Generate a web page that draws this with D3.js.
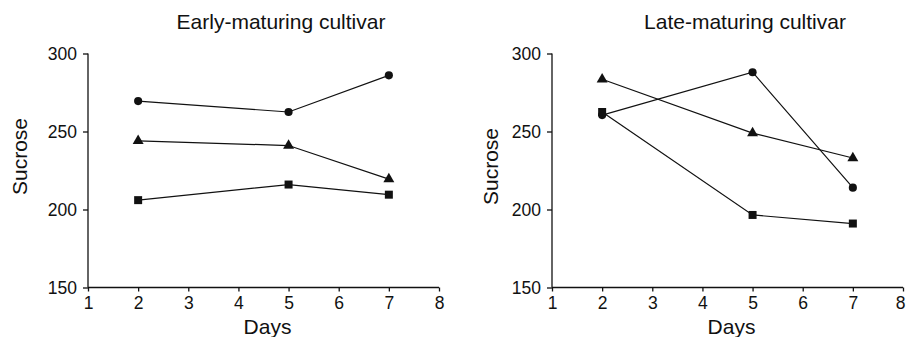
<!DOCTYPE html>
<html>
<head>
<meta charset="utf-8">
<script src="https://cdn.jsdelivr.net/npm/d3@7"></script>
<style>
  body { margin: 0; background: #fff; }
  svg text { font-family: "Liberation Sans", Arial, sans-serif; fill: #111; }
</style>
</head>
<body>
<div id="chart"></div>
<script>
// data
let days = [2, 5, 7];
let earlyCircle = [269.5, 262.5, 286];
let earlyTriangle = [244, 241, 219.5];
let earlySquare = [206, 216, 209.5];
let lateCircle = [260.5, 288, 214];
let lateTriangle = [283.5, 249, 233];
let lateSquare = [262.5, 196.5, 191];
let xTicks = [1, 2, 3, 4, 5, 6, 7, 8];
let yTicks = [150, 200, 250, 300];

let panels = [
    {title: "Early-maturing cultivar", left: 88, labelX: -61, labelY: 156.5,
     series: [{shape: d3.symbolCircle, v: earlyCircle}, {shape: d3.symbolTriangle, v: earlyTriangle}, {shape: d3.symbolSquare, v: earlySquare}]},
    {title: "Late-maturing cultivar", left: 552, labelX: -54, labelY: 166.5,
     series: [{shape: d3.symbolCircle, v: lateCircle}, {shape: d3.symbolTriangle, v: lateTriangle}, {shape: d3.symbolSquare, v: lateSquare}]}
];

let svg = d3.select("#chart").append("svg")
    .attr("width", 906)
    .attr("height", 337);

let plotW = 351, plotTop = 53.5, plotBottom = 287.5;

panels.forEach((p, pi) => {
    let g = svg.append("g").attr("transform", `translate(${p.left},0)`);

    let x = d3.scaleLinear().domain([1, 8]).range([0, plotW]);
    let y = d3.scaleLinear().domain([150, 300]).range([plotBottom, plotTop]);

    let xAxis = g.append("g")
        .attr("transform", `translate(0,${plotBottom})`)
        .call(d3.axisBottom(x).tickValues(xTicks).tickSize(4).tickPadding(5).tickFormat(d3.format("d")));
    let yAxis = g.append("g")
        .call(d3.axisLeft(y).tickValues(yTicks).tickSize(5).tickPadding(6));

    [xAxis, yAxis].forEach(a => {
        a.selectAll("path, line").attr("stroke", "#111").attr("stroke-width", 1.3);
        a.selectAll("text").style("font-size", "17.5px").attr("fill", "#111");
    });
    xAxis.select(".domain").attr("d", `M0,0H${plotW}`);
    yAxis.select(".domain").attr("d", `M0,${plotBottom}V${plotTop}`);

    // last tick label sits at the page edge on the right panel
    if (pi === 1) {
        xAxis.selectAll(".tick text").filter(d => d === 8).attr("dx", -3);
    }

    // titles
    g.append("text")
        .attr("x", 193)
        .attr("y", 29)
        .attr("text-anchor", "middle")
        .style("font-size", "21px")
        .text(p.title);

    g.append("text")
        .attr("x", 179.5)
        .attr("y", 334)
        .attr("text-anchor", "middle")
        .style("font-size", "21px")
        .text("Days");

    g.append("text")
        .attr("transform", `translate(${p.labelX},${p.labelY}) rotate(-90)`)
        .attr("text-anchor", "middle")
        .style("font-size", "21px")
        .text("Sucrose");

    let line = d3.line().x((d, i) => x(days[i])).y(d => y(d));

    p.series.forEach(s => {
        g.append("path")
            .datum(s.v)
            .attr("d", line)
            .attr("fill", "none")
            .attr("stroke", "#111")
            .attr("stroke-width", 1.2);

        g.selectAll(null)
            .data(s.v)
            .enter().append("path")
            .attr("transform", (d, i) => `translate(${x(days[i])},${y(d)})`)
            .attr("d", d3.symbol().type(s.shape).size(s.shape === d3.symbolCircle ? 52 : s.shape === d3.symbolSquare ? 64 : 52))
            .attr("fill", "#111");
    });
});
</script>
</body>
</html>
